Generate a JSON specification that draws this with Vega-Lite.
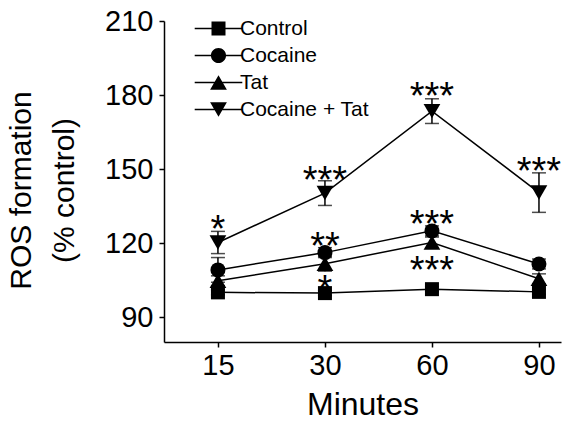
{
  "$schema": "https://vega.github.io/schema/vega-lite/v6.json",
  "width": 397,
  "height": 321,
  "autosize": {"type": "none"},
  "padding": {"left": 164, "top": 21, "right": 4, "bottom": 82},
  "background": "white",
  "config": {
    "view": {"stroke": null},
    "font": "Liberation Sans",
    "axis": {
      "domainColor": "black", "domainWidth": 1.5,
      "tickColor": "black", "tickWidth": 1.5, "tickSize": 5,
      "labelFont": "Liberation Sans", "labelFontSize": 29, "labelColor": "black",
      "titleFont": "Liberation Sans", "titleFontSize": 30, "titleFontWeight": "normal", "titleColor": "black",
      "grid": false
    },
    "legend": {
      "labelFont": "Liberation Sans", "labelFontSize": 21, "labelColor": "black"
    }
  },
  "datasets": {
    "series": [
      {"Group": "Control", "Minutes": 15, "value": 100.1, "err": 1},
      {"Group": "Control", "Minutes": 30, "value": 99.8, "err": 1},
      {"Group": "Control", "Minutes": 60, "value": 101.4, "err": 1},
      {"Group": "Control", "Minutes": 90, "value": 100.3, "err": 1},
      {"Group": "Cocaine", "Minutes": 15, "value": 109.2, "err": 5},
      {"Group": "Cocaine", "Minutes": 30, "value": 116.2, "err": 2},
      {"Group": "Cocaine", "Minutes": 60, "value": 125.0, "err": 2},
      {"Group": "Cocaine", "Minutes": 90, "value": 111.6, "err": 2},
      {"Group": "Tat", "Minutes": 15, "value": 104.8, "err": 2},
      {"Group": "Tat", "Minutes": 30, "value": 111.7, "err": 3},
      {"Group": "Tat", "Minutes": 60, "value": 120.3, "err": 2.2},
      {"Group": "Tat", "Minutes": 90, "value": 105.6, "err": 2},
      {"Group": "Cocaine + Tat", "Minutes": 15, "value": 120.3, "err": 4.5},
      {"Group": "Cocaine + Tat", "Minutes": 30, "value": 140.3, "err": 5},
      {"Group": "Cocaine + Tat", "Minutes": 60, "value": 173.5, "err": 5},
      {"Group": "Cocaine + Tat", "Minutes": 90, "value": 140.5, "err": 8}
    ],
    "stars": [
      {"Minutes": 15, "value": 129.2, "label": "*"},
      {"Minutes": 30, "value": 149.0, "label": "***"},
      {"Minutes": 60, "value": 182.7, "label": "***"},
      {"Minutes": 90, "value": 152.4, "label": "***"},
      {"Minutes": 30, "value": 122.1, "label": "**"},
      {"Minutes": 60, "value": 131.1, "label": "***"},
      {"Minutes": 60, "value": 112.6, "label": "***"},
      {"Minutes": 30, "value": 104.8, "label": "*"}
    ]
  },
  "encoding": {
    "x": {
      "field": "Minutes", "type": "ordinal",
      "scale": {"type": "point", "padding": 0.355, "align": 0.71},
      "axis": {"labelAngle": 0, "title": "Minutes", "labelPadding": 4, "titlePadding": 9, "titleFontSize": 32}
    },
    "y": {
      "field": "value", "type": "quantitative",
      "scale": {"domain": [80, 210], "nice": false, "zero": false},
      "axis": {
        "values": [90, 120, 150, 180, 210],
        "title": ["ROS formation", "(% control)"],
        "titleLineHeight": 43, "labelPadding": 6,
        "titleX": -128, "titleY": 169, "titleAlign": "center"
      }
    }
  },
  "layer": [
    {
      "data": {"name": "series"},
      "mark": {"type": "line", "color": "black", "strokeWidth": 1.5},
      "encoding": {"detail": {"field": "Group"}}
    },
    {
      "data": {"name": "series"},
      "mark": {"type": "errorbar", "color": "black", "thickness": 1.5, "ticks": {"size": 14, "thickness": 1.5}},
      "encoding": {
        "yError": {"field": "err"},
        "detail": {"field": "Group"}
      }
    },
    {
      "data": {"name": "series"},
      "transform": [{"filter": "datum.Group === 'Control'"}],
      "mark": {"type": "point", "filled": true, "color": "black", "opacity": 1, "shape": "square", "size": 196}
    },
    {
      "data": {"name": "series"},
      "transform": [{"filter": "datum.Group === 'Cocaine'"}],
      "mark": {"type": "point", "filled": true, "color": "black", "opacity": 1, "shape": "circle", "size": 225}
    },
    {
      "data": {"name": "series"},
      "transform": [{"filter": "datum.Group === 'Tat'"}],
      "mark": {"type": "point", "filled": true, "color": "black", "opacity": 1, "shape": "triangle-up", "size": 280}
    },
    {
      "data": {"name": "series"},
      "transform": [{"filter": "datum.Group === 'Cocaine + Tat'"}],
      "mark": {"type": "point", "filled": true, "color": "black", "opacity": 1, "shape": "triangle-down", "size": 280}
    },
    {
      "data": {"name": "series"},
      "transform": [{"filter": "false"}],
      "mark": {"type": "point", "filled": true, "color": "black", "opacity": 1, "size": 196},
      "encoding": {
        "shape": {
          "field": "Group", "type": "nominal",
          "scale": {
            "domain": ["Control", "Cocaine", "Tat", "Cocaine + Tat"],
            "range": [
              "M-3.4,-0.1H-0.5V0.1H-3.4ZM0.5,-0.1H3.4V0.1H0.5ZM-1,-1H1V1H-1Z",
              "M-3.4,-0.1H-0.5V0.1H-3.4ZM0.5,-0.1H3.4V0.1H0.5ZM-1.08,0A1.08,1.08,0,1,1,1.08,0A1.08,1.08,0,1,1,-1.08,0Z",
              "M-3.4,-0.1H-0.5V0.1H-3.4ZM0.5,-0.1H3.4V0.1H0.5ZM0,-1.05L1.2,1.05L-1.2,1.05Z",
              "M-3.4,-0.1H-0.5V0.1H-3.4ZM0.5,-0.1H3.4V0.1H0.5ZM0,1.05L-1.2,-1.05L1.2,-1.05Z"
            ]
          },
          "legend": {
            "title": null, "orient": "none", "legendX": 44, "legendY": -3,
            "padding": 0, "rowPadding": 5, "labelOffset": 11,
            "symbolSize": 196, "symbolOpacity": 1,
            "symbolFillColor": "black", "symbolStrokeColor": "black", "symbolStrokeWidth": 0
          }
        }
      }
    },
    {
      "data": {"name": "stars"},
      "mark": {"type": "text", "font": "Liberation Sans", "fontSize": 38, "color": "black", "baseline": "middle", "align": "center", "dy": 10},
      "encoding": {"text": {"field": "label"}}
    }
  ]
}
